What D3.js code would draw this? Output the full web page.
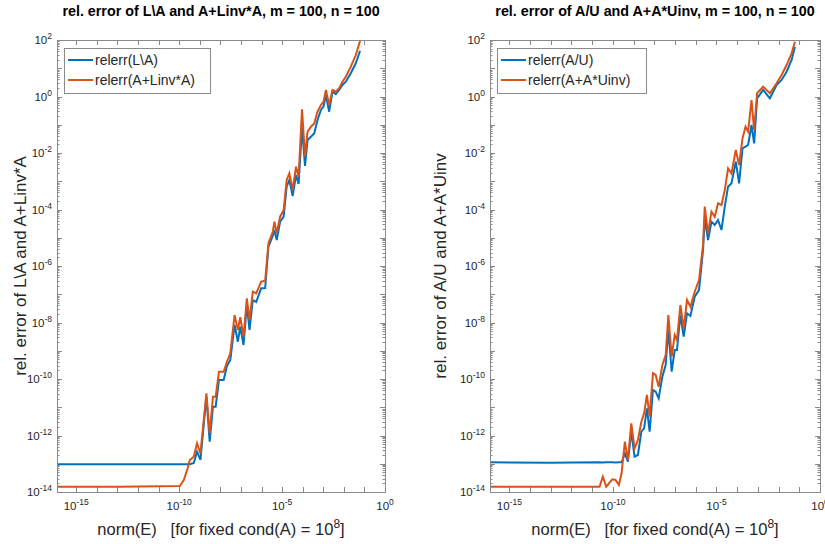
<!DOCTYPE html>
<meta charset="utf-8">
<head>
  <script src="https://d3js.org/d3.v7.min.js"></script>
  <style>
    body { margin: 0; background: #fff; }
    svg { font-family: "Liberation Sans", Arial, Helvetica, sans-serif; }
  </style>
</head>
<body>
<svg id="chart" width="825" height="544"></svg>
<script>
  // left panel: L\A vs A+Linv*A
  const normL = [1.16e-16, 1.35e-13, 1.07e-10, 1.68e-10, 2.62e-10, 3.27e-10, 5.12e-10, 7.38e-10, 1.08e-9, 2.10e-9,
    3.04e-9, 4.38e-9, 5.93e-9, 8.57e-9, 1.45e-8, 2.09e-8, 3.05e-8, 4.92e-8, 7.11e-8, 9.29e-8,
    1.34e-7, 1.94e-7, 2.62e-7, 3.78e-7, 5.52e-7, 9.64e-7, 1.51e-6, 2.17e-6, 3.51e-6, 4.24e-6,
    5.48e-6, 8.0e-6, 1.19e-5, 1.67e-5, 2.25e-5, 3.26e-5, 4.75e-5, 6.35e-5, 9.29e-5, 1.30e-4,
    1.73e-4, 2.53e-4, 3.66e-4, 5.27e-4, 7.71e-4, 1.03e-3, 1.35e-3, 1.94e-3, 2.81e-3, 4.09e-3,
    5.92e-3, 8.55e-3, 1.25e-2, 2.18e-2, 3.80e-2, 6.14e-2]
  const relerrLA = [9.55e-14, 9.55e-14, 9.55e-14, 9.55e-14, 9.55e-14, 9.55e-14, 1.06e-13, 2.67e-13, 1.36e-13, 2.36e-11,
    6.04e-13, 1.05e-11, 1.05e-11, 9.23e-11, 9.23e-11, 2.88e-10, 4.71e-10, 8.17e-9, 2.09e-9, 7.10e-9,
    1.60e-9, 4.16e-8, 5.43e-9, 6.25e-8, 5.32e-8, 1.63e-7, 1.66e-7, 4.82e-6, 1.15e-5, 1.88e-5,
    8.32e-6, 3.70e-5, 5.56e-5, 6.41e-4, 1.11e-3, 3.01e-4, 1.66e-3, 8.0e-4, 7.67e-2, 3.47e-3,
    2.88e-2, 3.78e-2, 4.98e-2, 0.147, 0.333, 0.436, 1.13, 0.290, 1.48, 1.22,
    1.70, 2.55, 3.34, 6.62, 15.0, 41.8]
  const relerrLinv = [1.54e-14, 1.54e-14, 1.63e-14, 2.66e-14, 7.08e-14, 1.36e-13, 1.78e-13, 5.30e-13, 2.34e-13, 3.12e-11,
    1.20e-12, 2.36e-11, 2.36e-11, 1.81e-10, 1.81e-10, 4.09e-10, 8.13e-10, 1.84e-8, 5.43e-9, 1.53e-8,
    3.14e-9, 7.19e-8, 1.22e-8, 1.23e-7, 1.08e-7, 2.78e-7, 3.02e-7, 6.37e-6, 1.60e-5, 3.70e-5,
    1.44e-5, 5.56e-5, 9.60e-5, 1.11e-3, 1.91e-3, 4.90e-4, 3.27e-3, 1.45e-3, 0.352, 7.40e-3,
    5.68e-2, 8.53e-2, 0.112, 0.290, 0.500, 0.655, 1.70, 0.500, 1.70, 1.48,
    1.95, 3.34, 5.02, 11.4, 29.4, 92.2]

  // right panel: A/U vs A+A*Uinv
  const normU = [1.16e-16, 8.61e-14, 2.26e-11, 3.27e-11, 4.76e-11, 9.31e-11, 1.34e-10, 1.94e-10, 2.62e-10, 3.78e-10,
    5.28e-10, 7.73e-10, 1.11e-9, 1.61e-9, 2.36e-9, 3.21e-9, 4.38e-9, 5.93e-9, 8.57e-9, 1.16e-8,
    1.62e-8, 2.44e-8, 3.52e-8, 4.76e-8, 6.87e-8, 9.62e-8, 1.24e-7, 1.81e-7, 2.62e-7, 3.78e-7,
    5.52e-7, 8.91e-7, 1.44e-6, 2.25e-6, 2.72e-6, 3.93e-6, 5.73e-6, 8.28e-6, 1.19e-5, 1.75e-5,
    2.52e-5, 3.64e-5, 5.32e-5, 8.59e-5, 1.24e-4, 1.81e-4, 2.53e-4, 3.38e-4, 4.93e-4, 6.59e-4,
    9.20e-4, 1.79e-3, 3.79e-3, 8.0e-3, 1.40e-2, 2.44e-2, 4.25e-2, 6.14e-2]
  const relerrAU = [1.12e-13, 1.08e-13, 1.12e-13, 1.11e-13, 1.12e-13, 1.12e-13, 1.11e-13, 1.12e-13, 1.12e-13, 2.34e-13,
    1.18e-13, 1.36e-12, 1.78e-13, 2.04e-13, 1.36e-12, 1.80e-12, 9.18e-12, 1.36e-12, 4.08e-11, 3.55e-11,
    2.07e-11, 1.21e-10, 3.13e-10, 5.43e-9, 1.81e-10, 1.06e-9, 1.06e-9, 1.84e-8, 3.14e-9, 2.12e-8,
    1.70e-8, 8.18e-8, 1.41e-7, 3.68e-6, 4.88e-5, 8.32e-6, 3.70e-5, 2.83e-5, 4.25e-5, 1.88e-5,
    1.26e-4, 6.41e-4, 8.45e-4, 4.92e-3, 8.45e-4, 1.47e-2, 1.67e-2, 1.92e-2, 9.80e-2, 2.20e-2,
    0.863, 1.70, 0.863, 2.55, 3.84, 7.55, 19.6, 57.9]
  const relerrUinv = [1.54e-14, 1.54e-14, 1.54e-14, 3.48e-14, 1.54e-14, 2.82e-14, 2.66e-14, 1.77e-14, 4.59e-14, 6.04e-13,
    1.36e-13, 2.70e-12, 3.52e-13, 6.93e-13, 3.08e-12, 6.11e-12, 2.72e-11, 4.62e-12, 1.59e-10, 1.39e-10,
    5.33e-11, 3.13e-10, 7.08e-10, 1.84e-8, 6.15e-10, 3.61e-9, 2.40e-9, 4.16e-8, 6.24e-9, 6.25e-8,
    3.62e-8, 1.23e-7, 3.19e-7, 5.54e-6, 1.26e-4, 1.44e-5, 8.36e-5, 5.56e-5, 1.66e-4, 1.44e-4,
    4.90e-4, 2.87e-3, 1.91e-3, 1.28e-2, 3.76e-3, 3.31e-2, 8.53e-2, 5.68e-2, 0.752, 6.52e-2,
    1.30, 2.22, 1.30, 2.93, 5.77, 13.0, 33.8, 87.1]

  // axis limits and labelled ticks (exponents of 10)
  const xDomain = [1.16e-16, 1]
  const yDomain = [1e-14, 1e2]
  const xTickExp = [-15, -10, -5, 0]
  const yTickExp = [2, 0, -2, -4, -6, -8, -10, -12, -14]

  const blue = "#0072BD", orange = "#D95319"
  const axisColor = "#8a8a8a", textColor = "#262626"
  const plotTop = 40, plotBottom = 492

  const svg = d3.select("#chart")

  function drawPanel(p) {
    const x = d3.scaleLog().domain(xDomain).range([p.left, p.right])
    const y = d3.scaleLog().domain(yDomain).range([plotBottom, plotTop])
    const g = svg.append("g")

    g.append("clipPath").attr("id", p.id + "-clip")
      .append("rect").attr("x", p.left).attr("y", plotTop)
      .attr("width", p.right - p.left).attr("height", plotBottom - plotTop)

    // minor y ticks
    const minorY = []
    for (let e = -14; e < 2; e++) for (let m = 2; m < 10; m++) minorY.push(m * Math.pow(10, e))
    const majorY = d3.range(-14, 3).map(e => Math.pow(10, e))
    const majorX = d3.range(-15, 1).map(e => Math.pow(10, e))

    const ticks = g.append("g").attr("stroke", axisColor).attr("stroke-width", 1)
    minorY.forEach(v => {
      const yy = Math.round(y(v)) + 0.5
      ticks.append("line").attr("x1", p.left).attr("x2", p.left + 2.5).attr("y1", yy).attr("y2", yy)
      ticks.append("line").attr("x1", p.right).attr("x2", p.right - 2.5).attr("y1", yy).attr("y2", yy)
    })
    majorY.forEach(v => {
      const yy = Math.round(y(v)) + 0.5
      ticks.append("line").attr("x1", p.left).attr("x2", p.left + 5).attr("y1", yy).attr("y2", yy)
      ticks.append("line").attr("x1", p.right).attr("x2", p.right - 5).attr("y1", yy).attr("y2", yy)
    })
    majorX.forEach(v => {
      const xx = Math.round(x(v)) + 0.5
      ticks.append("line").attr("x1", xx).attr("x2", xx).attr("y1", plotBottom).attr("y2", plotBottom - 5)
      ticks.append("line").attr("x1", xx).attr("x2", xx).attr("y1", plotTop).attr("y2", plotTop + 5)
    })

    // data lines
    const line = d3.line().x(d => x(d[0])).y(d => y(d[1]))
    const lines = g.append("g").attr("clip-path", "url(#" + p.id + "-clip)")
    lines.append("path").datum(p.xs.map((v, i) => [v, p.s1[i]]))
      .attr("d", line).attr("fill", "none").attr("stroke", blue).attr("stroke-width", 2)
    lines.append("path").datum(p.xs.map((v, i) => [v, p.s2[i]]))
      .attr("d", line).attr("fill", "none").attr("stroke", orange).attr("stroke-width", 2)

    // box
    g.append("rect").attr("x", p.left + 0.5).attr("y", plotTop + 0.5)
      .attr("width", p.right - p.left).attr("height", plotBottom - plotTop)
      .attr("fill", "none").attr("stroke", axisColor)

    // tick labels
    xTickExp.forEach(e => {
      const t = g.append("text").attr("x", x(Math.pow(10, e))).attr("y", 510)
        .attr("text-anchor", "middle").attr("fill", textColor).attr("font-size", 11.5)
      t.append("tspan").text("10")
      t.append("tspan").attr("dy", -5).attr("font-size", 8.5).text(e === 0 ? "0" : "-" + (-e))
    })
    yTickExp.forEach(e => {
      const t = g.append("text").attr("x", p.left - 5).attr("y", y(Math.pow(10, e)) + 4)
        .attr("text-anchor", "end").attr("fill", textColor).attr("font-size", 11.5)
      t.append("tspan").text("10")
      t.append("tspan").attr("dy", -5).attr("font-size", 8.5).text(e > 0 ? e : (e === 0 ? "0" : "-" + (-e)))
    })

    // titles
    const cx = (p.left + p.right) / 2
    g.append("text").attr("x", cx).attr("y", 16).attr("text-anchor", "middle")
      .attr("font-weight", "bold").attr("font-size", 14.3).attr("fill", "#000").text(p.title)
    const xl = g.append("text").attr("x", cx).attr("y", 535).attr("text-anchor", "middle")
      .attr("font-size", 16.5).attr("fill", textColor)
    xl.append("tspan").text("norm(E)\u00a0\u00a0\u00a0[for fixed cond(A) = 10")
    xl.append("tspan").attr("dy", -7).attr("font-size", 12).text("8")
    xl.append("tspan").attr("dy", 7).text("]")
    g.append("text").attr("transform", "translate(" + p.yLabelX + "," + (plotTop + plotBottom) / 2 + ") rotate(-90)")
      .attr("text-anchor", "middle").attr("font-size", 17).attr("fill", textColor).text(p.ylabel)

    // legend
    const lx = p.left + 7, ly = 48
    const leg = g.append("g")
    leg.append("rect").attr("x", lx + 0.5).attr("y", ly + 0.5).attr("width", p.legendW).attr("height", 45)
      .attr("fill", "#fff").attr("stroke", axisColor)
    p.names.forEach((n, i) => {
      const yy = ly + 12 + i * 20
      leg.append("line").attr("x1", lx + 4).attr("x2", lx + 29).attr("y1", yy).attr("y2", yy)
        .attr("stroke", i === 0 ? blue : orange).attr("stroke-width", 2)
      leg.append("text").attr("x", lx + 31).attr("y", yy + 5).attr("font-size", 14)
        .attr("fill", textColor).text(n)
    })
  }

  drawPanel({
    id: "left", left: 57, right: 385, yLabelX: 26, legendW: 146,
    xs: normL, s1: relerrLA, s2: relerrLinv,
    title: "rel. error of L\\A and A+Linv*A, m = 100, n = 100",
    ylabel: "rel. error of L\\A and A+Linv*A",
    names: ["relerr(L\\A)", "relerr(A+Linv*A)"]
  })
  drawPanel({
    id: "right", left: 490, right: 820, yLabelX: 446, legendW: 149,
    xs: normU, s1: relerrAU, s2: relerrUinv,
    title: "rel. error of A/U and A+A*Uinv, m = 100, n = 100",
    ylabel: "rel. error of A/U and A+A*Uinv",
    names: ["relerr(A/U)", "relerr(A+A*Uinv)"]
  })
</script>
</body>
